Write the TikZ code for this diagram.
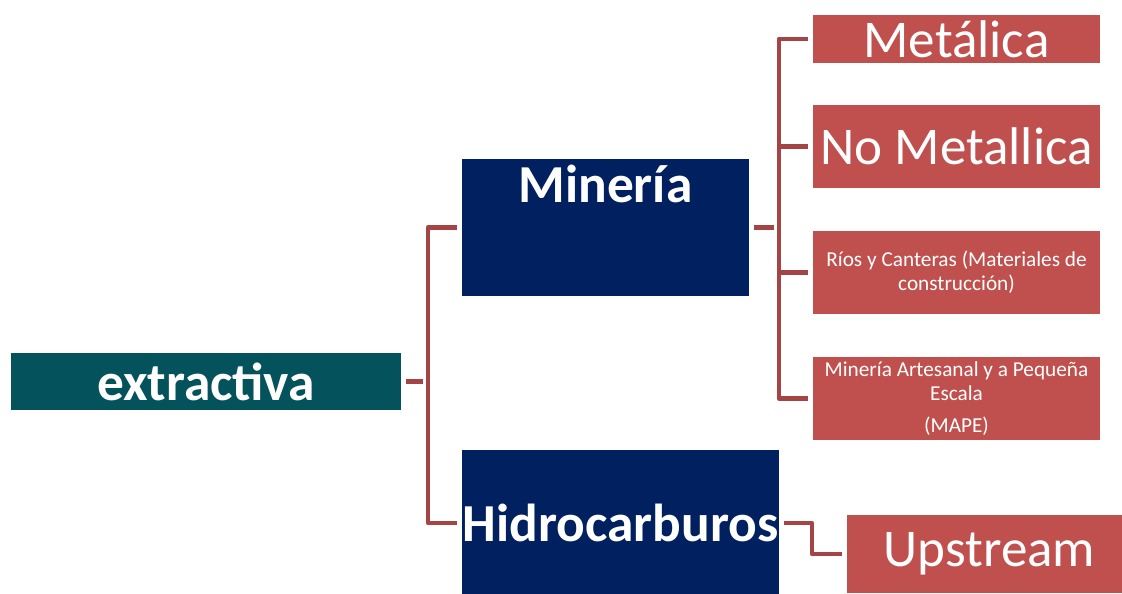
\documentclass[tikz,border=0pt]{standalone}
\usepackage{fontspec}
\setmainfont{Carlito}
\usetikzlibrary{calc}

\definecolor{tealbox}{HTML}{03525C}
\definecolor{navybox}{HTML}{002060}
\definecolor{redbox}{HTML}{C0504D}
\definecolor{connred}{HTML}{A54444}

\begin{document}
\begin{tikzpicture}[x=0.02cm, y=-0.02cm,
		box/.style={inner sep=0pt, outer sep=0pt, text=white},
		bigbold/.style={text=white, font=\fontsize{30.4}{35}\selectfont\bfseries},
		bigtext/.style={font=\fontsize{30.2}{35}\selectfont},
		smalltext/.style={font=\fontsize{12.1}{13.6}\selectfont, align=center},
		subbox/.style={box, fill=redbox, minimum width=5.74cm, minimum height=1.66cm},
		conn/.style={draw=connred, line width=2.4pt, line join=round, shorten >=0.1cm}]
		%\draw[thin, draw=gray!30, step=50] (0,0) grid (1122,593);
		\useasboundingbox (0,0) rectangle (1122,593);
		
		% left side
		\node[box, bigbold, fill=tealbox, minimum width=7.8cm, minimum height=1.14cm] (extractiva) at (206,381.5) {extractiva};
		\node[box, fill=navybox, minimum width=5.74cm, minimum height=2.74cm] (mineria) at (605.5,227.5) {};
		\node[bigbold, anchor=base] (mineriat) at (605.5,202) {Minería};
		\node[box, bigbold, fill=navybox, minimum width=6.34cm, minimum height=2.92cm] (hidro) at (620.5,523) {Hidrocarburos};
		
		% right side
		\node[subbox, bigtext, minimum height=0.96cm] (metalica) at (956.5,39) {Metálica};
		\node[subbox, bigtext] (nometal) at (956.5,146.5) {No Metallica};
		\node[subbox, smalltext] (rios) at (956.5,272.5) {Ríos y Canteras (Materiales de\\construcción)};
		\node[subbox, smalltext] (mape) at (956.5,398.5) {Minería Artesanal y a Pequeña\\Escala\\[4.5pt](MAPE)};
		\node[subbox, bigtext, minimum width=5.5cm, minimum height=1.56cm] (upstream) at (984.5,554) {\hspace{0.2cm}Upstream};
		
		% connectors
		\draw[conn, shorten <=0.1cm] (extractiva.east) -- ++(27,0) coordinate (ej);
		\draw[conn] (ej) |- (mineria.west);
		\draw[conn] (ej) |- (hidro.west);
		\draw[conn, shorten <=0.1cm] (mineria.east) -- ++(30,0) coordinate (mj);
		\foreach \n in {metalica,nometal,rios,mape}
			\draw[conn] (mj) |- (\n.west);
		\draw[conn, shorten <=0.1cm] (hidro.east) -- ++(33,0) |- (upstream.west);
	\end{tikzpicture}
\end{document}
